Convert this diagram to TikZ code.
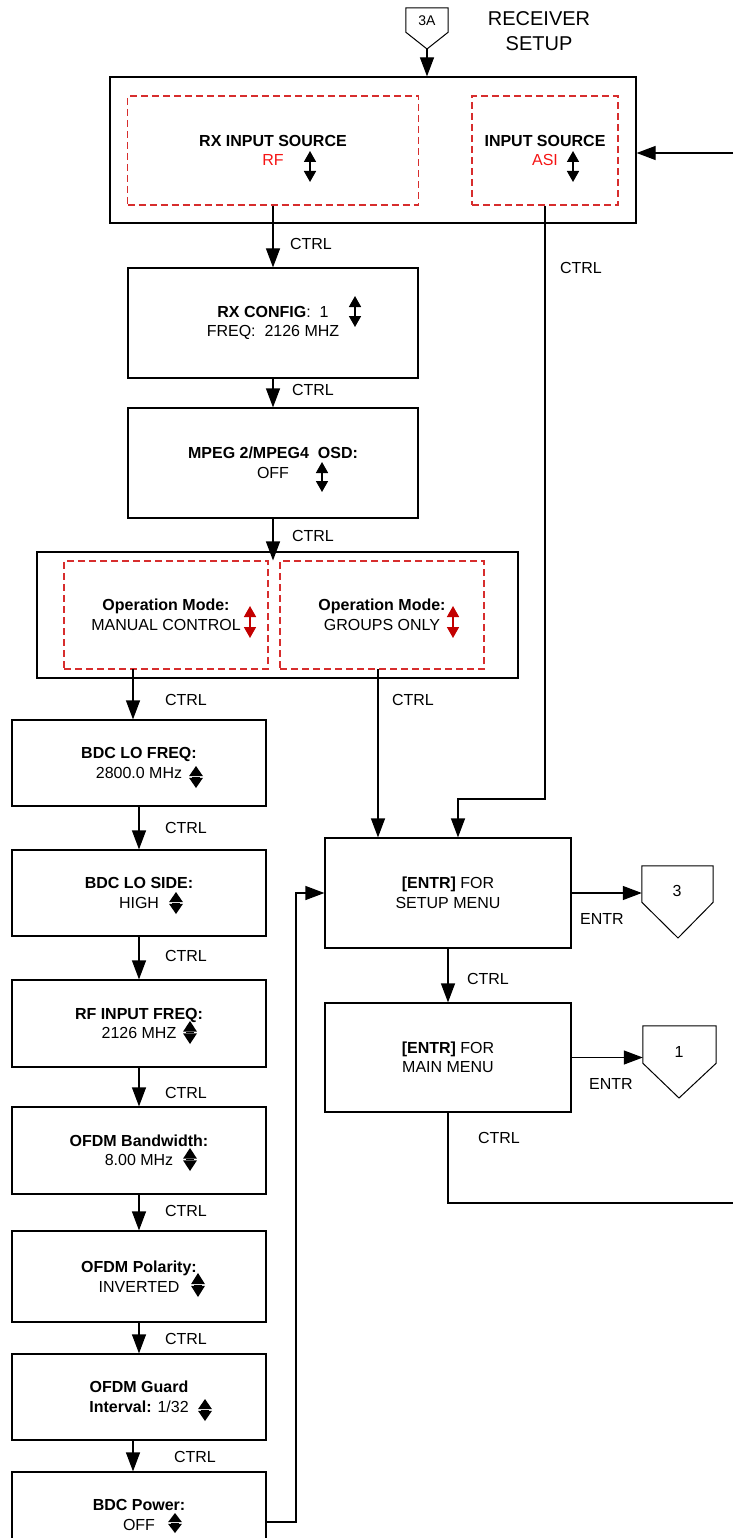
\documentclass[tikz,border=0pt]{standalone}
\usepackage{fontspec}
\setmainfont{Liberation Sans}
\usetikzlibrary{arrows.meta,calc}
\definecolor{dashred}{RGB}{215,45,45}
\definecolor{txtred}{RGB}{245,20,20}
\definecolor{arrred}{RGB}{195,0,0}
\tikzset{
  box/.style={draw,line width=1.2pt,rectangle,inner sep=0pt,align=center,font=\fontsize{16}{19.5}\selectfont},
  dbox/.style={draw=dashred,line width=1.1pt,dash pattern=on 7pt off 4pt,rectangle,inner sep=0pt,align=center,font=\fontsize{16}{19.5}\selectfont},
  lbl/.style={inner sep=0pt,font=\fontsize{16}{19.5}\selectfont},
  arr/.style={line width=1.2pt,-{Triangle[width=14pt,length=19pt]}},
  conn/.style={line width=1.2pt},
  pinbox/.style={rectangle,inner sep=0pt},
  pinline/.style={line width=1pt},
}
\newcommand{\udarrow}[4][black]{% color, x, ytop, ybottom
  \draw[#1,line width=1.6pt,{Triangle[width=12pt,length=11pt]}-{Triangle[width=12pt,length=11pt]}] (#2,#3) -- (#2,#4);}
\newcommand{\diaarrow}[3]{% x, ytop, ybottom
  \pgfmathsetmacro{\ym}{(#2+#3)/2}
  \fill (#1,#2) -- (#1+7,\ym-0.8) -- (#1-7,\ym-0.8) -- cycle;
  \fill (#1,#3) -- (#1+7,\ym+0.8) -- (#1-7,\ym+0.8) -- cycle;
  \draw[line width=0.5pt] (#1-4,\ym) -- (#1+4,\ym);}
\begin{document}
\begin{tikzpicture}[x=1pt,y=-1pt]
\useasboundingbox (0,0) rectangle (733,1538);

% title
\node[lbl,align=center,font=\fontsize{20}{25}\selectfont] (title) at (539,31) {RECEIVER\\SETUP};

% off-page connector 3A
\node[pinbox,minimum width=42pt,minimum height=24pt] (pin3A) at (427,20) {};
\draw[pinline] (pin3A.north west) -- (pin3A.north east) -- (pin3A.south east) -- (427,49) -- (pin3A.south west) -- cycle;
\coordinate (p3Atip) at (427,49);
\node[lbl,font=\fontsize{14}{16}\selectfont] (pin3At) at (427,21) {3A};

% top box
\node[box,minimum width=526pt,minimum height=146pt] (topbox) at (373,150) {};
\node[dbox,minimum width=291pt,minimum height=109pt] (rxsrc) at (273,150.5)
  {\textbf{RX INPUT SOURCE}\\\textcolor{txtred}{RF}};
\node[dbox,minimum width=146pt,minimum height=109pt] (insrc) at (545,150.5)
  {\textbf{INPUT SOURCE}\\\textcolor{txtred}{ASI}};
\udarrow{310}{151}{182}
\udarrow{573}{151}{182}

% RX config
\node[box,minimum width=290pt,minimum height=110pt] (rxcfg) at (273,323)
  {\textbf{RX CONFIG}:\ \ 1\\FREQ:\ \ 2126 MHZ};
\udarrow{355}{296}{327}

% MPEG
\node[box,minimum width=290pt,minimum height=110pt] (mpeg) at (273,463)
  {\textbf{MPEG 2/MPEG4\ \ OSD:}\\OFF};
\udarrow{322}{462}{492}

% operation mode box
\node[box,minimum width=481pt,minimum height=126pt] (opbox) at (277.5,615) {};
\node[dbox,minimum width=204pt,minimum height=108pt] (op1) at (166,615)
  {\textbf{Operation Mode:}\\MANUAL CONTROL};
\node[dbox,minimum width=204pt,minimum height=108pt] (op2) at (382,615)
  {\textbf{Operation Mode:}\\GROUPS ONLY};
\udarrow[arrred]{250}{606}{638}
\udarrow[arrred]{453}{606}{638}

% left column
\node[box,minimum width=254pt,minimum height=86pt] (lofreq) at (139,763)
  {\textbf{BDC LO FREQ:}\\2800.0 MHz};
\diaarrow{196}{766}{788}
\node[box,minimum width=254pt,minimum height=86pt] (loside) at (139,893)
  {\textbf{BDC LO SIDE:}\\HIGH};
\diaarrow{176}{892}{914}
\node[box,minimum width=254pt,minimum height=87pt] (rfin) at (139,1023.5)
  {\textbf{RF INPUT FREQ:}\\2126 MHZ};
\diaarrow{190}{1021}{1044}
\node[box,minimum width=254pt,minimum height=87pt] (bw) at (139,1150.5)
  {\textbf{OFDM Bandwidth:}\\8.00 MHz};
\diaarrow{190}{1148}{1171}
\node[box,minimum width=254pt,minimum height=91pt] (pol) at (139,1276.5)
  {\textbf{OFDM Polarity:}\\INVERTED};
\diaarrow{198}{1273}{1297}
\node[box,minimum width=254pt,minimum height=86pt] (guard) at (139,1397)
  {\textbf{OFDM Guard}\\\textbf{Interval:} 1/32};
\diaarrow{205}{1399}{1421}
\node[box,minimum width=254pt,minimum height=86pt] (power) at (139,1515)
  {\textbf{BDC Power:}\\OFF};
\diaarrow{175}{1513}{1533}

% right column
\node[box,minimum width=246pt,minimum height=110pt] (setup) at (448,893)
  {\textbf{[ENTR]} FOR\\SETUP MENU};
\node[box,minimum width=246pt,minimum height=109pt] (mainm) at (448,1057.5)
  {\textbf{[ENTR]} FOR\\MAIN MENU};

% off-page connector 3
\node[pinbox,minimum width=71pt,minimum height=36pt] (pin3) at (677.5,884) {};
\draw[pinline] (pin3.north west) -- (pin3.north east) -- (pin3.south east) -- (678,938) -- (pin3.south west) -- cycle;
\node[lbl] (pin3t) at (677,891) {3};
% off-page connector 1
\node[pinbox,minimum width=73pt,minimum height=37pt] (pin1) at (679.5,1044.5) {};
\draw[pinline] (pin1.north west) -- (pin1.north east) -- (pin1.south east) -- (679,1098) -- (pin1.south west) -- cycle;
\node[lbl] (pin1t) at (679,1052) {1};

% connectors
\draw[arr] (p3Atip) -- (p3Atip |- topbox.north);
\coordinate (rin) at (733,153);
\draw[arr] (rin) -- (rin -| topbox.east);
\draw[arr] (rxsrc.south) -- (rxcfg.north);
\coordinate (j1) at (458,799);
\draw[arr] (insrc.south) |- (j1) -- (j1 |- setup.north);
\draw[arr] (rxcfg.south) -- (mpeg.north);
\draw[arr] (mpeg.south) -- (mpeg.south |- op1.north);
\coordinate (c1) at (133,669);
\draw[arr] (c1) -- (c1 |- lofreq.north);
\coordinate (c2) at (378,669);
\draw[arr] (c2) -- (c2 |- setup.north);
\draw[arr] (lofreq.south) -- (loside.north);
\draw[arr] (loside.south) -- (rfin.north);
\draw[arr] (rfin.south) -- (bw.north);
\draw[arr] (bw.south) -- (pol.north);
\draw[arr] (pol.south) -- (guard.north);
\draw[arr] ($(guard.south)+(-6,0)$) -- ($(power.north)+(-6,0)$);
\coordinate (j2) at (296,893);
\draw[arr] ($(power.east)+(0,7)$) -| (j2) -- (setup.west);
\draw[arr] (setup.east) -- (setup.east -| pin3.west);
\draw[arr] (setup.south) -- (mainm.north);
\draw[arr] (mainm.east) -- (mainm.east -| pin1.west);
\coordinate (rout) at (733,1203);
\draw[conn] (mainm.south) |- (rout);

% labels
\node[lbl] (l1) at (311,244) {CTRL};
\node[lbl] (l2) at (581,268) {CTRL};
\node[lbl] (l3) at (313,390) {CTRL};
\node[lbl] (l4) at (313,536) {CTRL};
\node[lbl] (l5) at (186,700) {CTRL};
\node[lbl] (l6) at (413,700) {CTRL};
\node[lbl] (l7) at (186,828) {CTRL};
\node[lbl] (l8) at (186,956) {CTRL};
\node[lbl] (l9) at (186,1093) {CTRL};
\node[lbl] (l10) at (186,1211) {CTRL};
\node[lbl] (l11) at (186,1339) {CTRL};
\node[lbl] (l12) at (195,1457) {CTRL};
\node[lbl] (l13) at (488,979) {CTRL};
\node[lbl] (l14) at (499,1138) {CTRL};
\node[lbl] (l15) at (602,919) {ENTR};
\node[lbl] (l16) at (611,1084) {ENTR};
\end{tikzpicture}
\end{document}
